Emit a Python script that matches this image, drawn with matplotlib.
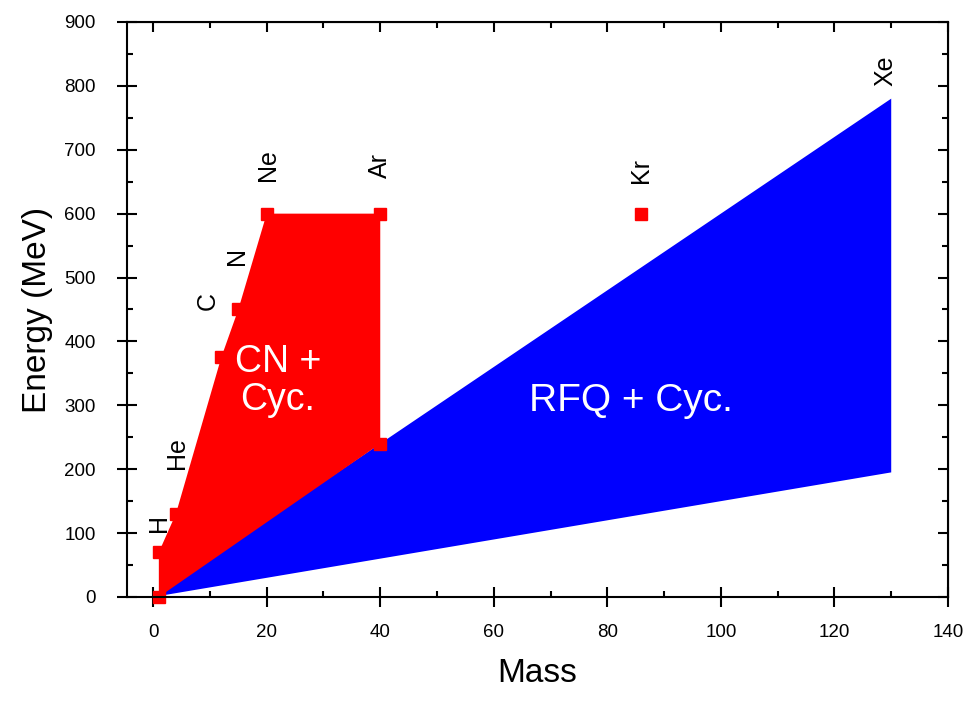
import matplotlib
matplotlib.use("Agg")
import matplotlib.pyplot as plt
from matplotlib.ticker import MultipleLocator

plt.rcParams['font.family'] = ['Liberation Sans', 'DejaVu Sans']

# CN + cyclotron region (mass, energy in MeV)
cn_mass = [1, 1, 4, 12, 15, 20, 40, 40]
cn_energy = [0, 70, 130, 375, 450, 600, 600, 240]

# RFQ + cyclotron region
rfq_mass = [1, 130, 130, 1]
rfq_energy = [6, 780, 195, 1.5]

# single point for Kr
kr_mass = [86]
kr_energy = [600]

# element labels and where they sit
elem_names = ["H", "He", "C", "N", "Ne", "Ar", "Kr", "Xe"]
elem_x = [1, 4.2, 9.7, 14.8, 20.2, 40, 86, 129]
elem_y = [116, 226, 464, 534, 676, 676, 668, 824]

fig = plt.figure(figsize=(9.75, 7.02), dpi=100)
ax = fig.add_axes([0.1303, 0.1496, 0.8420, 0.8191])

ax.fill(rfq_mass, rfq_energy, color="#0000ff", linewidth=0)
ax.fill(cn_mass, cn_energy, color="#ff0000", linewidth=0)
ax.plot(cn_mass, cn_energy, linestyle="none", marker="s", markersize=8.6,
        color="#ff0000", clip_on=False)
ax.plot(kr_mass, kr_energy, linestyle="none", marker="s", markersize=8.6,
        color="#ff0000")

for name, x, y in zip(elem_names, elem_x, elem_y):
    ax.text(x, y, name, rotation=90, ha="center", va="center", fontsize=18)

ax.text(22, 338, "CN +\nCyc.", color="white", fontsize=27, ha="center",
        va="center", linespacing=1.1)
ax.text(84.2, 307, "RFQ + Cyc.", color="white", fontsize=28, ha="center",
        va="center")

ax.set_xlim(-4.6, 140)
ax.set_ylim(0, 900)
ax.xaxis.set_major_locator(MultipleLocator(20))
ax.xaxis.set_minor_locator(MultipleLocator(10))
ax.yaxis.set_major_locator(MultipleLocator(100))
ax.yaxis.set_minor_locator(MultipleLocator(50))

for s in ax.spines.values():
    s.set_linewidth(1.5)

ax.tick_params(which="major", direction="inout", length=15, width=1.5,
               labelsize=13.5)
ax.tick_params(which="minor", direction="in", length=4, width=1.5)
ax.tick_params(axis="y", which="major", pad=15)
ax.tick_params(axis="x", which="major", pad=12)

# top and right: inward ticks, no labels
top = ax.secondary_xaxis("top")
top.xaxis.set_major_locator(MultipleLocator(20))
top.xaxis.set_minor_locator(MultipleLocator(10))
top.tick_params(which="major", direction="in", length=7, width=1.5,
                labeltop=False)
top.tick_params(which="minor", direction="in", length=4, width=1.5)
right = ax.secondary_yaxis("right")
right.yaxis.set_major_locator(MultipleLocator(100))
right.yaxis.set_minor_locator(MultipleLocator(50))
right.tick_params(which="major", direction="in", length=7, width=1.5,
                  labelright=False)
right.tick_params(which="minor", direction="in", length=4, width=1.5)

ax.set_xlabel("Mass", fontsize=24, labelpad=12)
ax.set_ylabel("Energy (MeV)", fontsize=24, labelpad=8)

fig.savefig("out.png", dpi=100)
